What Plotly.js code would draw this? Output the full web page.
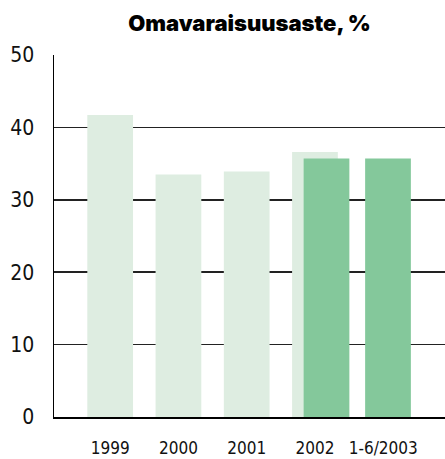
<!DOCTYPE html>
<html>
<head>
<meta charset="utf-8">
<script src="https://cdn.plot.ly/plotly-3.0.1.min.js"></script>
<style>
html,body{margin:0;padding:0;background:#fff;}
#chart{width:445px;height:459px;}
</style>
</head>
<body>
<div id="chart"></div>
<script>
var categories = ['1999', '2000', '2001', '2002', '1-6/2003'];
var lightCategories = ['1999', '2000', '2001', '2002'];
var lightValues = [41.7, 33.5, 33.9, 36.6];
var darkCategories = ['2002', '1-6/2003'];
var darkValues = [35.7, 35.7];
var yTicks = [0, 10, 20, 30, 40, 50];

var traces = [
  {
    type: 'bar',
    x: lightCategories,
    y: lightValues,
    width: 0.67,
    marker: {color: '#deede1', line: {width: 0}},
    hoverinfo: 'skip'
  },
  {
    type: 'bar',
    x: darkCategories,
    y: darkValues,
    width: 0.67,
    offset: [-0.166, -0.265],
    marker: {color: '#84c89b', line: {width: 0}},
    hoverinfo: 'skip'
  }
];

var layout = {
  width: 445,
  height: 459,
  margin: {l: 54, r: 0, t: 55, b: 42, pad: 0},
  paper_bgcolor: '#ffffff',
  plot_bgcolor: '#ffffff',
  showlegend: false,
  barmode: 'overlay',
  title: {
    text: 'Omavaraisuusaste, %',
    font: {family: 'Inter, Liberation Sans, sans-serif', size: 22, weight: 900, color: '#000'},
    x: 0.5, xref: 'paper', xanchor: 'center',
    y: 1 - 23 / 459, yref: 'container', yanchor: 'middle'
  },
  xaxis: {
    type: 'category',
    categoryorder: 'array',
    categoryarray: categories,
    range: [-0.823, 4.905],
    showgrid: false,
    zeroline: false,
    showline: true,
    linecolor: '#000',
    linewidth: 1.5,
    ticks: '',
    ticklabelstandoff: 15,
    tickfont: {family: 'DejaVu Sans Condensed, sans-serif', size: 17, color: '#111'},
    fixedrange: true
  },
  yaxis: {
    range: [0, 50],
    tickvals: yTicks,
    ticktext: yTicks.map(String),
    showgrid: true,
    gridcolor: '#222',
    gridwidth: 1.5,
    zeroline: false,
    showline: true,
    linecolor: '#000',
    linewidth: 1.5,
    ticks: '',
    ticklabelstandoff: 14,
    tickfont: {family: 'DejaVu Sans Condensed, sans-serif', size: 21, color: '#111'},
    fixedrange: true
  }
};

Plotly.newPlot('chart', traces, layout, {displayModeBar: false, staticPlot: true});
</script>
</body>
</html>
